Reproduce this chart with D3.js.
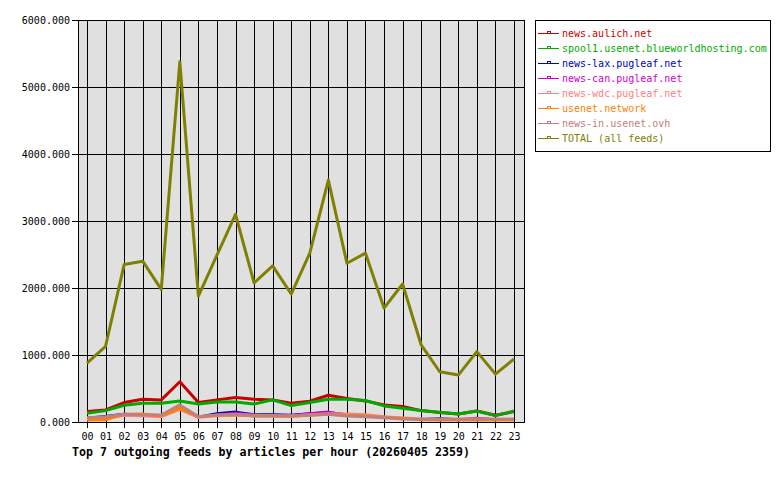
<!DOCTYPE html>
<html>
<head>
<meta charset="utf-8">
<script src="https://cdn.jsdelivr.net/npm/d3@7"></script>
<style>
	body { margin: 0; background: #ffffff; }
	text { font-family: "DejaVu Sans Mono", "Liberation Mono", monospace; }
	.tick_text { font-size: 10px; fill: #000; }
	.legend_text { font-size: 10px; }
	.title { font-size: 11.6px; font-weight: bold; fill: #000; }
</style>
</head>
<body>
<div id="chart"></div>
<script>
// hours on the x axis
const hours = ["00","01","02","03","04","05","06","07","08","09","10","11",
	"12","13","14","15","16","17","18","19","20","21","22","23"];

const y_ticks = [0, 1000, 2000, 3000, 4000, 5000, 6000];

const feed_names = ["news.aulich.net", "spool1.usenet.blueworldhosting.com",
	"news-lax.pugleaf.net", "news-can.pugleaf.net", "news-wdc.pugleaf.net",
	"usenet.network", "news-in.usenet.ovh", "TOTAL (all feeds)"];

// articles per hour
const aulich   = [155,180,290,340,330,600,290,330,365,340,330,280,310,400,350,315,255,230,170,140,120,165,100,155];
const spool1   = [130,170,250,280,280,315,270,300,300,270,330,245,290,340,340,320,240,205,170,145,120,165,95,165];
const lax      = [65,90,125,105,90,200,80,130,155,115,115,110,130,145,115,100,80,45,45,55,40,40,40,40];
const can      = [60,70,110,100,90,220,80,110,140,110,100,100,130,155,110,100,70,50,40,40,40,65,40,35];
const wdc      = [50,60,100,95,80,190,70,95,110,100,95,90,110,125,120,110,80,60,45,40,40,45,40,40];
const usenet   = [30,35,115,120,95,205,80,100,100,95,90,85,100,115,100,90,70,55,35,30,30,30,30,30];
const usenet_in= [65,80,115,105,105,255,80,105,115,90,90,90,105,115,90,80,65,45,40,40,40,45,40,40];
const total    = [880,1130,2350,2400,1980,5375,1880,2490,3100,2075,2330,1910,2520,3610,2370,2520,1700,2060,1150,750,700,1050,715,940];

const series = [aulich, spool1, lax, can, wdc, usenet, usenet_in, total];
const colors = ["#cc0000", "#00aa00", "#0000cc", "#cc00cc", "#ff8080", "#ff8000", "#c08080", "#808000"];
const widths = [3, 3, 2, 2, 3, 3, 3, 3];

const margin = {top: 20, left: 78, plot_w: 446, plot_h: 402};

const svg = d3.select("#chart").append("svg")
	.attr("width", 780)
	.attr("height", 480);

const g = svg.append("g")
	.attr("transform", `translate(${margin.left},${margin.top})`);

const x_scale = d3.scalePoint()
	.domain(hours)
	.range([9, 436]);

const y_scale = d3.scaleLinear()
	.domain([0, 6000])
	.range([margin.plot_h, 0]);

// grey plot area
g.append("rect")
	.attr("width", margin.plot_w)
	.attr("height", margin.plot_h)
	.attr("fill", "#e0e0e0");

// grid lines
g.selectAll(".vgrid")
	.data(hours)
	.enter().append("line")
	.attr("class", "vgrid")
	.attr("x1", d => Math.round(x_scale(d)) + 0.5)
	.attr("x2", d => Math.round(x_scale(d)) + 0.5)
	.attr("y1", 0)
	.attr("y2", margin.plot_h + 6)
	.attr("stroke", "#000")
	.attr("shape-rendering", "crispEdges");

g.selectAll(".hgrid")
	.data(y_ticks)
	.enter().append("line")
	.attr("class", "hgrid")
	.attr("x1", -6)
	.attr("x2", margin.plot_w)
	.attr("y1", d => Math.round(y_scale(d)) + 0.5)
	.attr("y2", d => Math.round(y_scale(d)) + 0.5)
	.attr("stroke", "#000")
	.attr("shape-rendering", "crispEdges");

// frame
g.append("rect")
	.attr("x", 0.5)
	.attr("y", 0.5)
	.attr("width", margin.plot_w)
	.attr("height", margin.plot_h)
	.attr("fill", "none")
	.attr("stroke", "#000")
	.attr("shape-rendering", "crispEdges");

// axis labels
g.selectAll(".ylab")
	.data(y_ticks)
	.enter().append("text")
	.attr("class", "tick_text")
	.attr("x", -8)
	.attr("y", d => y_scale(d))
	.attr("dy", "0.35em")
	.attr("text-anchor", "end")
	.text(d => d3.format(".3f")(d));

g.selectAll(".xlab")
	.data(hours)
	.enter().append("text")
	.attr("class", "tick_text")
	.attr("x", d => x_scale(d) + 0.5)
	.attr("y", margin.plot_h + 18)
	.attr("text-anchor", "middle")
	.text(d => d);

// the lines, legend order, TOTAL on top
const line = d3.line()
	.x((d, i) => x_scale(hours[i]))
	.y(d => y_scale(d));

g.selectAll(".feed")
	.data(series)
	.enter().append("path")
	.attr("class", "feed")
	.attr("d", d => line(d))
	.attr("fill", "none")
	.attr("stroke", (d, i) => colors[i])
	.attr("stroke-width", (d, i) => widths[i])
	.attr("stroke-linejoin", "round");

// legend
const legend = svg.append("g")
	.attr("transform", "translate(535,20)");

legend.append("rect")
	.attr("x", 0.5)
	.attr("y", 0.5)
	.attr("width", 235)
	.attr("height", 131)
	.attr("fill", "#fff")
	.attr("stroke", "#000")
	.attr("shape-rendering", "crispEdges");

const items = legend.selectAll(".item")
	.data(feed_names)
	.enter().append("g")
	.attr("class", "item")
	.attr("transform", (d, i) => `translate(0,${13 + i * 15})`);

items.append("line")
	.attr("x1", 3)
	.attr("x2", 24)
	.attr("y1", 0.5)
	.attr("y2", 0.5)
	.attr("stroke", (d, i) => colors[i])
	.attr("shape-rendering", "crispEdges");

items.append("rect")
	.attr("x", 12.5)
	.attr("y", -1.5)
	.attr("width", 3)
	.attr("height", 2)
	.attr("fill", "none")
	.attr("stroke", (d, i) => colors[i])
	.attr("shape-rendering", "crispEdges");

items.append("text")
	.attr("class", "legend_text")
	.attr("x", 27)
	.attr("y", 0)
	.attr("dy", "0.35em")
	.attr("fill", (d, i) => colors[i])
	.text(d => d);

// title under the plot
svg.append("text")
	.attr("class", "title")
	.attr("x", 72)
	.attr("y", 456)
	.text("Top 7 outgoing feeds by articles per hour (20260405 2359)");
</script>
</body>
</html>
